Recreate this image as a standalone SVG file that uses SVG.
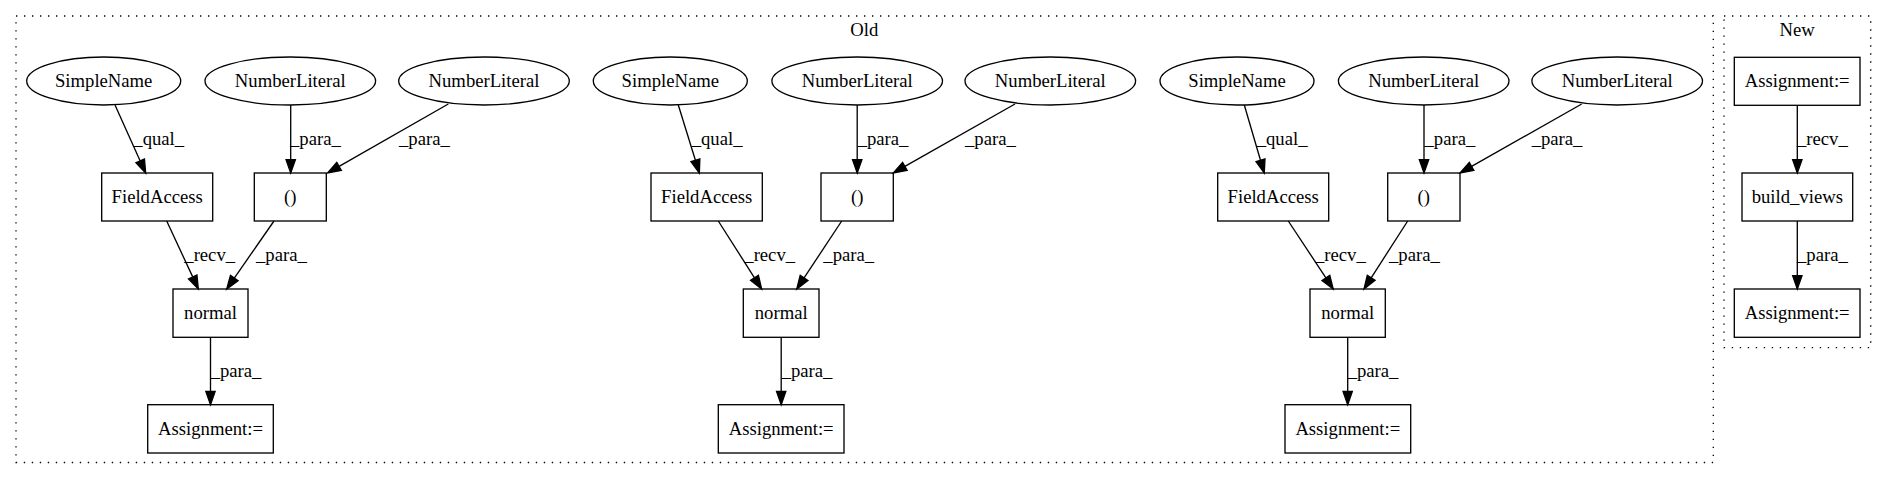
<svg xmlns="http://www.w3.org/2000/svg" width="1887" height="480" viewBox="0 0 1887 480">
<style>
text{font-family:"Liberation Serif","Times New Roman",serif;font-size:18.67px;fill:#000}
.n{fill:none;stroke:#000;stroke-width:1.33}
.c{fill:none;stroke:#000;stroke-width:1.33;stroke-dasharray:1.33 6.67}
.e{fill:none;stroke:#000;stroke-width:1.33;marker-end:url(#ah)}
.m{text-anchor:middle}
</style>
<defs>
<marker id="ah" markerUnits="userSpaceOnUse" markerWidth="16" markerHeight="12" refX="0" refY="4.67" orient="auto" overflow="visible"><path d="M0,0 L13.33,4.67 L0,9.33 z" fill="#000" stroke="#000" stroke-width="1.33"/></marker>
</defs>
<rect width="1887" height="480" fill="#fff"/>
<g id="cluster_old">
<rect class="c" x="16" y="16" width="1697.3" height="446.5"/>
<text class="m" x="864.3" y="36">Old</text>
</g>
<g id="cluster_new">
<rect class="c" x="1724" y="16" width="146.7" height="331.7"/>
<text class="m" x="1797.2" y="36">New</text>
</g>

<g id="edges">
<path class="e" d="M115,105 L140.2,160.9"/>
<path class="e" d="M290.7,105 L290.7,159.7"/>
<path class="e" d="M448.3,104 L339.1,166.4"/>
<path class="e" d="M166.7,221 L192.7,276.9"/>
<path class="e" d="M274,221 L234.3,278.05"/>
<path class="e" d="M210.5,337.3 L210.5,391.4"/>

<path class="e" d="M678.3,105 L695.4,160.3"/>
<path class="e" d="M857.2,105 L857.2,159.7"/>
<path class="e" d="M1015,104 L904.9,166.4"/>
<path class="e" d="M718.3,221 L754.5,277.8"/>
<path class="e" d="M841.7,221 L804.1,277.9"/>
<path class="e" d="M781.2,337.3 L781.2,391.4"/>

<path class="e" d="M1244.3,105 L1260.5,160.2"/>
<path class="e" d="M1424,105 L1424,159.7"/>
<path class="e" d="M1581.7,104 L1471.6,166.4"/>
<path class="e" d="M1288.3,221 L1325.9,277.9"/>
<path class="e" d="M1407.7,221 L1371.2,277.8"/>
<path class="e" d="M1347.7,337.3 L1347.7,391.4"/>

<path class="e" d="M1797.3,105.3 L1797.3,159.7"/>
<path class="e" d="M1797.3,221 L1797.3,275.7"/>

<text x="133.3" y="144.5">_qual_</text>
<text x="290" y="144.5">_para_</text>
<text x="399" y="144.5">_para_</text>
<text x="184.3" y="260.5">_recv_</text>
<text x="256" y="260.5">_para_</text>
<text x="210.7" y="376.5">_para_</text>

<text x="691.7" y="144.5">_qual_</text>
<text x="857.7" y="144.5">_para_</text>
<text x="965" y="144.5">_para_</text>
<text x="744.3" y="260.5">_recv_</text>
<text x="823.3" y="260.5">_para_</text>
<text x="781.7" y="376.5">_para_</text>

<text x="1256.7" y="144.5">_qual_</text>
<text x="1424.5" y="144.5">_para_</text>
<text x="1531.7" y="144.5">_para_</text>
<text x="1315" y="260.5">_recv_</text>
<text x="1389" y="260.5">_para_</text>
<text x="1347.7" y="376.5">_para_</text>

<text x="1797" y="144.5">_recv_</text>
<text x="1797" y="260.5">_para_</text>
</g>

<g id="sn1"><ellipse class="n" cx="103.7" cy="81" rx="77" ry="24"/><text class="m" x="103.7" y="86.6">SimpleName</text></g>
<g id="nl1a"><ellipse class="n" cx="290.3" cy="81" rx="85.3" ry="24"/><text class="m" x="290.3" y="86.6">NumberLiteral</text></g>
<g id="nl1b"><ellipse class="n" cx="484" cy="81" rx="85.3" ry="24"/><text class="m" x="484" y="86.6">NumberLiteral</text></g>
<g id="fa1"><rect class="n" x="101.7" y="173" width="111" height="48"/><text class="m" x="157.2" y="202.6">FieldAccess</text></g>
<g id="par1"><rect class="n" x="254.3" y="173" width="72" height="48"/><text class="m" x="290.3" y="202.6">()</text></g>
<g id="normal1"><rect class="n" x="173" y="289" width="75" height="48.3"/><text class="m" x="210.5" y="318.6">normal</text></g>
<g id="assign1"><rect class="n" x="147.7" y="404.7" width="125.6" height="48.3"/><text class="m" x="210.5" y="434.6">Assignment:=</text></g>

<g id="sn2"><ellipse class="n" cx="670.3" cy="81" rx="77" ry="24"/><text class="m" x="670.3" y="86.6">SimpleName</text></g>
<g id="nl2a"><ellipse class="n" cx="857.2" cy="81" rx="85.3" ry="24"/><text class="m" x="857.2" y="86.6">NumberLiteral</text></g>
<g id="nl2b"><ellipse class="n" cx="1050.3" cy="81" rx="85.3" ry="24"/><text class="m" x="1050.3" y="86.6">NumberLiteral</text></g>
<g id="fa2"><rect class="n" x="651" y="173" width="111.3" height="48"/><text class="m" x="706.7" y="202.6">FieldAccess</text></g>
<g id="par2"><rect class="n" x="821" y="173" width="72.3" height="48"/><text class="m" x="857.2" y="202.6">()</text></g>
<g id="normal2"><rect class="n" x="743.3" y="289" width="75.7" height="48.3"/><text class="m" x="781.2" y="318.6">normal</text></g>
<g id="assign2"><rect class="n" x="718.3" y="404.7" width="125.7" height="48.3"/><text class="m" x="781.2" y="434.6">Assignment:=</text></g>

<g id="sn3"><ellipse class="n" cx="1237" cy="81" rx="77" ry="24"/><text class="m" x="1237" y="86.6">SimpleName</text></g>
<g id="nl3a"><ellipse class="n" cx="1423.7" cy="81" rx="85.3" ry="24"/><text class="m" x="1423.7" y="86.6">NumberLiteral</text></g>
<g id="nl3b"><ellipse class="n" cx="1617.2" cy="81" rx="85.3" ry="24"/><text class="m" x="1617.2" y="86.6">NumberLiteral</text></g>
<g id="fa3"><rect class="n" x="1217.7" y="173" width="111" height="48"/><text class="m" x="1273.2" y="202.6">FieldAccess</text></g>
<g id="par3"><rect class="n" x="1387.7" y="173" width="72.3" height="48"/><text class="m" x="1423.8" y="202.6">()</text></g>
<g id="normal3"><rect class="n" x="1310" y="289" width="75.3" height="48.3"/><text class="m" x="1347.7" y="318.6">normal</text></g>
<g id="assign3"><rect class="n" x="1285" y="404.7" width="125.7" height="48.3"/><text class="m" x="1347.8" y="434.6">Assignment:=</text></g>

<g id="assign_new1"><rect class="n" x="1734.3" y="57.3" width="125.7" height="48"/><text class="m" x="1797.2" y="86.9">Assignment:=</text></g>
<g id="build_views"><rect class="n" x="1742" y="173" width="110.7" height="48"/><text class="m" x="1797.3" y="202.6">build_views</text></g>
<g id="assign_new2"><rect class="n" x="1734.3" y="289" width="125.7" height="48.3"/><text class="m" x="1797.2" y="318.6">Assignment:=</text></g>
</svg>
